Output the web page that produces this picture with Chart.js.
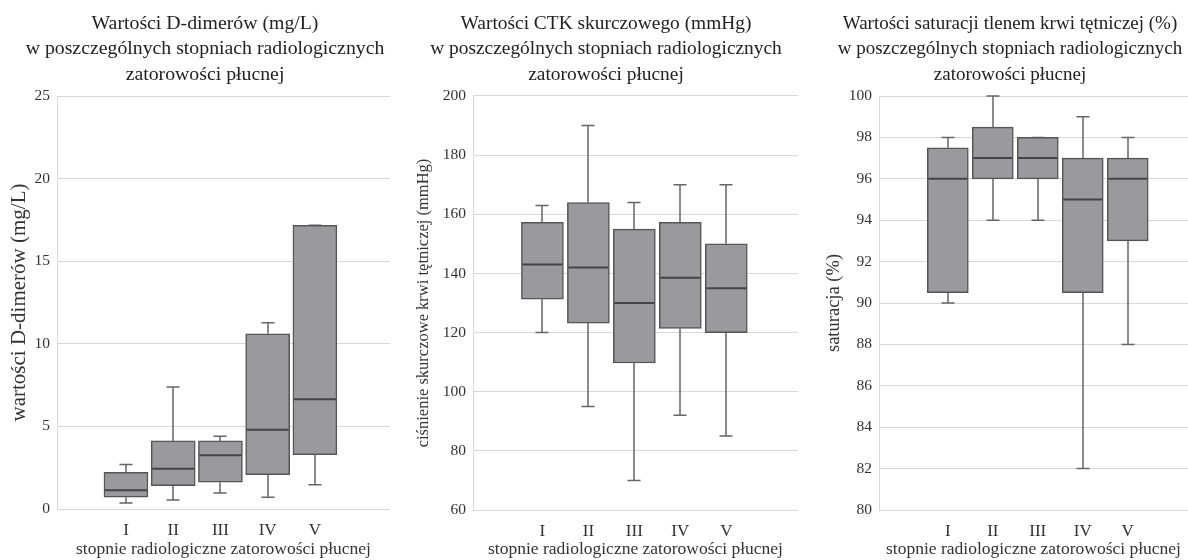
<!DOCTYPE html>
<html><head><meta charset="utf-8">
<script src="https://cdn.jsdelivr.net/npm/chart.js@4.4.1/dist/chart.umd.min.js"></script>
<style>
html,body{margin:0;padding:0;background:#fff;overflow:hidden;width:1188px;height:560px;position:relative;}
.c{position:absolute;top:0;height:560px;}
</style></head><body>
<div class="c" style="left:0px;width:410px"><canvas id="c1" width="410" height="560"></canvas></div>
<div class="c" style="left:400px;width:410px"><canvas id="c2" width="410" height="560"></canvas></div>
<div class="c" style="left:810px;width:400px"><canvas id="c3" width="400" height="560"></canvas></div>
<script>
// ---- data ----
const categories = ['I', 'II', 'III', 'IV', 'V'];
const xAxisTitle = 'stopnie radiologiczne zatorowości płucnej';

// D-dimery (mg/L)
const ddMin = [0.36, 0.54, 0.97, 0.71, 1.47];
const ddQ1  = [0.71, 1.41, 1.62, 2.08, 3.29];
const ddMed = [1.13, 2.44, 3.25, 4.80, 6.64];
const ddQ3  = [2.22, 4.12, 4.12, 10.61, 17.17];
const ddMax = [2.70, 7.38, 4.40, 11.28, 17.17];

// CTK skurczowe (mmHg)
const ctkMin = [120, 95, 70, 92, 85];
const ctkQ1  = [131.3, 123.2, 109.7, 121.4, 120];
const ctkMed = [143, 142, 130, 138.5, 135];
const ctkQ3  = [157.3, 164, 155, 157.3, 150];
const ctkMax = [163, 190, 164, 170, 170];

// Saturacja (%)
const satMin = [90, 94, 94, 82, 88];
const satQ1  = [90.5, 96, 96, 90.5, 93];
const satMed = [96, 97, 97, 95, 96];
const satQ3  = [97.5, 98.5, 98, 97, 97];
const satMax = [98, 100, 98, 99, 98];

const serif = "'Liberation Serif', 'Times New Roman', 'DejaVu Serif', serif";
const textColor = '#333333';
const gridColor = '#d9d9d9';

const boxPlugin = {
  id: 'boxplot',
  afterLayout(chart) {
    const s = chart.$titleShift || 0;
    if (chart.titleBlock && s) { chart.titleBlock.left += s; chart.titleBlock.right += s; }
  },
  beforeDatasetsDraw(chart) {
    const ds = chart.data.datasets[0];
    const meta = chart.getDatasetMeta(0);
    const y = chart.scales.y;
    const ctx = chart.ctx;
    ctx.save();
    ctx.strokeStyle = '#666666';
    ctx.lineWidth = 1.5;
    meta.data.forEach((el, i) => {
      const x = Math.round(el.x);
      const yMin = y.getPixelForValue(ds.whMin[i]);
      const yMax = y.getPixelForValue(ds.whMax[i]);
      const yQ1 = y.getPixelForValue(ds.q1[i]);
      const yQ3 = y.getPixelForValue(ds.q3[i]);
      const cw = 6.5;
      ctx.beginPath();
      ctx.moveTo(x, yMax); ctx.lineTo(x, yQ3);
      ctx.moveTo(x, yQ1); ctx.lineTo(x, yMin);
      ctx.moveTo(x - cw, yMax); ctx.lineTo(x + cw, yMax);
      ctx.moveTo(x - cw, yMin); ctx.lineTo(x + cw, yMin);
      ctx.stroke();
    });
    ctx.restore();
  },
  afterDatasetsDraw(chart) {
    const ds = chart.data.datasets[0];
    const meta = chart.getDatasetMeta(0);
    const y = chart.scales.y;
    const ctx = chart.ctx;
    ctx.save();
    ctx.strokeStyle = '#444444';
    ctx.lineWidth = 2;
    meta.data.forEach((el, i) => {
      const ym = y.getPixelForValue(ds.med[i]);
      const half = el.width / 2;
      ctx.beginPath();
      ctx.moveTo(el.x - half + 1, ym); ctx.lineTo(el.x + half - 1, ym);
      ctx.stroke();
    });
    ctx.restore();
  }
};

function makeChart(id, p) {
  const canvas = document.getElementById(id);
  const chart = new Chart(canvas, {
    type: 'bar',
    plugins: [boxPlugin, { id: 'shiftInit', beforeInit(c) { c.$titleShift = p.titleShift; } }],
    data: {
      datasets: [{
        data: categories.map((c, i) => ({ x: i + 1, y: [p.q1[i], p.q3[i]] })),
        q1: p.q1, q3: p.q3, med: p.med, whMin: p.min, whMax: p.max,
        backgroundColor: '#9a9a9e',
        borderColor: '#555555',
        borderWidth: 1.5,
        borderSkipped: false,
        barThickness: p.barW
      }]
    },
    options: {
      responsive: false,
      animation: false,
      devicePixelRatio: 1,
      layout: { padding: { left: 0, right: p.padRight, top: 0, bottom: 0 } },
      plugins: {
        legend: { display: false },
        tooltip: { enabled: false },
        title: {
          display: true,
          text: p.title,
          color: '#222222',
          font: { family: serif, size: p.titleSize, weight: 'normal', lineHeight: 25.5 / p.titleSize },
          padding: { top: 11, bottom: 8.5 }
        }
      },
      scales: {
        x: {
          type: 'linear',
          offset: false,
          min: p.xMin,
          max: p.xMax,
          afterBuildTicks: (ax) => { ax.ticks = categories.map((c, i) => ({ value: i + 1 })); },
          afterFit: (ax) => { ax.height = p.xH; },
          grid: { display: false, drawTicks: false },
          border: { display: false },
          ticks: {
            padding: 11,
            color: textColor,
            font: { family: serif, size: 17 },
            callback: (v) => categories[Math.round(v) - 1] || ''
          },
          title: {
            display: true,
            text: xAxisTitle,
            color: textColor,
            font: { family: serif, size: 17.5 },
            padding: { top: 0, bottom: 0 }
          }
        },
        y: {
          min: p.yMin, max: p.yMax,
          ticks: { stepSize: p.step, padding: 7, color: textColor, font: { family: serif, size: 15.5 } },
          afterFit: (ax) => { ax.width = p.yW; },
          grid: { color: gridColor, lineWidth: 1, drawTicks: false },
          border: { display: true, color: gridColor },
          title: {
            display: true,
            text: p.yTitle,
            color: textColor,
            font: { family: serif, size: p.yTitleSize },
            padding: { top: p.yTitlePad, bottom: 0 }
          }
        }
      }
    }
  });
  return chart;
}

makeChart('c1', {
  title: ['Wartości D-dimerów (mg/L)', 'w poszczególnych stopniach radiologicznych', 'zatorowości płucnej'],
  yTitle: 'wartości D-dimerów (mg/L)',
  min: ddMin, q1: ddQ1, med: ddMed, q3: ddQ3, max: ddMax,
  yMin: 0, yMax: 25, step: 5,
  yW: 57, padRight: 20, xH: 51, xMin: -0.46, xMax: 6.59, barW: 44,
  yTitleSize: 21, yTitlePad: 7, titleShift: 10, titleSize: 19.8
});
makeChart('c2', {
  title: ['Wartości CTK skurczowego (mmHg)', 'w poszczególnych stopniach radiologicznych', 'zatorowości płucnej'],
  yTitle: 'ciśnienie skurczowe krwi tętniczej (mmHg)',
  min: ctkMin, q1: ctkQ1, med: ctkMed, q3: ctkQ3, max: ctkMax,
  yMin: 60, yMax: 200, step: 20,
  yW: 73, padRight: 12, xH: 50, xMin: -0.51, xMax: 6.56, barW: 42,
  yTitleSize: 16.5, yTitlePad: 14, titleShift: 7, titleSize: 19.4
});
makeChart('c3', {
  title: ['Wartości saturacji tlenem krwi tętniczej (%)', 'w poszczególnych stopniach radiologicznych', 'zatorowości płucnej'],
  yTitle: 'saturacja (%)',
  min: satMin, q1: satQ1, med: satMed, q3: satQ3, max: satMax,
  yMin: 80, yMax: 100, step: 2,
  yW: 69, padRight: 22, xH: 50, xMin: -0.53, xMax: 6.34, barW: 41,
  yTitleSize: 18.5, yTitlePad: 13, titleShift: 11, titleSize: 19
});
</script>
</body></html>
